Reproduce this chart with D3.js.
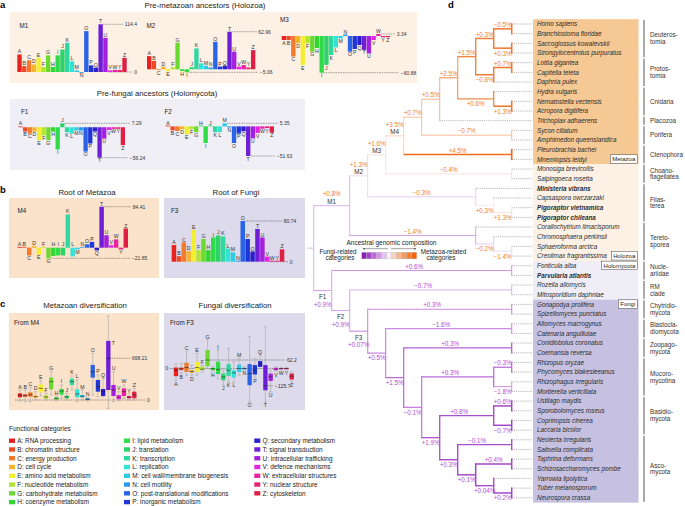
<!DOCTYPE html>
<html><head><meta charset="utf-8"><title>chart</title>
<script src="https://cdn.jsdelivr.net/npm/d3@7"></script>
<style>html,body{margin:0;padding:0;background:#fff;}svg{display:block;}</style>
</head><body>
<svg id="chart" width="685" height="506" font-family="'Liberation Sans', Arial, Helvetica, sans-serif"></svg>
<script>
// ================= DATA =================
const categories = ["A","B","C","D","E","F","G","H","I","J","K","L","M","N","O","P","Q","T","U","V","W","Y","Z"];
const categoryNames = ["RNA processing","chromatin structure","energy production","cell cycle","amino acid metabolism","nucleotide metabolism","carbohydrate metabolism","coenzyme metabolism","lipid metabolism","translation","transcription","replication","cell wall/membrane biogenesis","cell motility","post-translational modifications","inorganic metabolism","secondary metabolism","signal transduction","intracellular trafficking","defence mechanisms","extracellular structures","nuclear structure","cytoskeleton"];
const categoryColors = ["#e8201f","#ef4a26","#f4792a","#f7b32b","#f3ee30","#b4e433","#6cd932","#34d634","#2fdc48","#2bd36b","#2ed8a0","#33e3d5","#2ccbe6","#2b99ea","#2a63e6","#1f35d6","#2b1fd0","#6e1ed6","#a51fdf","#e124e6","#e8239f","#e62573","#e01f45"];

// panel a / b: net change per category
const valuesM1 = [42,14,28,18,34,12,40,12,40,54,70,26,4,-2,98,16,10,114.4,82,4,5,5,34];
const valuesM2 = [22,14,-1,4.5,-3,3.3,44.5,-3,-5.06,3.5,35,10,6,3,46,4.5,6,62.96,29.5,4.5,7,3,32];
const valuesM3 = [-6.6,-6.6,-34,-12,-48,-12,-26,-20,-60.88,-48,-31.5,-19,-4,2.5,-26,-21.5,-15,-23,-29,-6.6,3.34,-2,-2];
const valuesF1 = [0.5,-7.9,-12,-8,-24,-15,-24,-8,-41,7.29,-9,-12,-6,-6,-45,-30,-8,-56.24,-21,-5,-3,-3,-33];
const valuesF2 = [0.5,-7,-8,-5,-14,-5,-10,0.3,-29,0.3,-10,-10,5.35,-2,-29,-12.6,-8.6,-51.63,-21,-11.5,-4,-3,-11];
const valuesM4 = [1.5,1,-16,3.5,-14.5,0.5,-21.85,-17,-16,-16,68.5,-18,-3.5,0.5,7,12,-5.5,84.41,25.6,5,17,-3.5,39.5];
const valuesF3 = [33,11,38,21,63,23,45,23,48,52,50,26,18.5,2,80.74,45,20,65,48,10,2,2,24.5];

// panel c: [whisker low, q1, median, q3, whisker high]
const boxesMetazoa = [
 [-16,43,75,107,160],[-27,53,70,91,160],[-27,53,86,123,203],[0,37,53,70,134],[64,123,187,251,310],
 [0,21,48,75,107],[80,171,294,358,455],[-11,11,21,43,64],[27,86,144,177,241],[0,27,48,70,107],
 [160,241,294,342,385],[-27,43,96,171,321],[0,43,59,80,160],[-16,0,11,27,43],[80,358,455,562,749],
 [53,134,214,321,401],[53,64,134,177,348],[-134,160,668.21,947,1348],[-27,64,160,241,455],[-11,11,43,80,134],
 [27,64,134,187,241],[0,27,43,64,96],[0,27,80,134,187]];
const boxesFungi = [
 [-86,-56,-12,7,32],[-37,-12,-2,7,37],[-49,-25,7,42,122],[-49,-32,-22,-12,25],[-49,-25,7,49,110],
 [-25,-10,-5,14,25],[0,17,62.2,135,208],[-25,-12,-2,5,17],[-74,-40,-7,50,135],[-122,-86,-61,-37,-12],
 [-98,-54,-12,32,147],[-98,-66,-32,-12,49],[-49,-25,0,28,73],[-12,-6,0,5,12],[-245,-122,-37,32,233],
 [-66,-44,-12,25,73],[0,12,32,54,98],[-245,-159,-125.7,25,306],[-171,-91,-61,-37,-12],[-20,-12,-5,5,12],
 [-10,-5,0,3,8],[-10,-5,0,3,8],[-98,-81,-56,-37,-25]];

// panel d: phylogeny (internal nodes: [id, ...children]; leaves: species names)
const tree = ["root",
 ["M1",
  ["M2",
   ["M3",
    ["M4",
     ["n6",
      ["n5",
       ["plan",
        ["bil",
         ["deut",["c_homo","Homo sapiens","Branchiostoma floridae"],["c_sacco","Saccoglossus kowalevskii","Strongylocentrotus purpuratus"]],
         ["prot",["c_lot","Lottia gigantea","Capitella teleta"],"Daphnia pulex"]],
        ["cnid","Hydra vulgaris",["c_nem","Nematostella vectensis","Acropora digitifera"]]],
       "Trichoplax adhaerens"],
      ["c_por","Sycon ciliatum","Amphimedon queenslandica"]],
     ["c_cten","Pleurobrachia bachei","Mnemiopsis leidyi"]],
    ["c_cho","Monosiga brevicollis","Salpingoeca rosetta"]],
   ["fil","Ministeria vibrans",["capi","Capsaspora owczarzaki",["c_pig","Pigoraptor vietnamica","Pigoraptor chileana"]]]],
  ["ter","Corallochytrium limacisporum",["chr","Chromosphaera perkinsii",["c_sph","Sphaeroforma arctica","Creolimax fragrantissima"]]]],
 ["F1",
  ["c_nuc","Fonticula alba","Parvularia atlantis"],
  ["F2",
   ["c_rm","Rozella allomycis","Mitosporidium daphniae"],
   ["F3",
    ["c_chy","Gonapodya prolifera","Spizellomyces punctatus"],
    ["f4",
     ["c_bla","Allomyces macrogynus","Catenaria anguillulae"],
     ["f5",
      ["c_zoo","Conidiobolus coronatus","Coemansia reversa"],
      ["f6",
       ["muc",["c_rhz","Rhizopus oryzae","Phycomyces blakesleeanus"],["c_rhp","Rhizophagus irregularis","Mortierella verticillata"]],
       ["dik",
        ["bas",["c_ust","Ustilago maydis","Sporobolomyces roseus"],["c_cop","Coprinopsis cinerea","Laccaria bicolor"]],
        ["as1",["c_neo","Neolecta irregularis","Saitoella complicata"],
         ["as2",["c_tap","Taphrina deformans","Schizosaccharomyces pombe"],
          ["as3","Yarrowia lipolytica",["c_tub","Tuber melanosporum","Neurospora crassa"]]]]]]]]]]]];

const branchChange = {deut:"+0.3%",c_homo:"\u22120.5%",c_sacco:"+0.3%",prot:"\u22120.8%",c_lot:"+0.7%",bil:"+1.5%",plan:"+2.5%",
 cnid:"+0.6%",c_nem:"+1.3%",n5:"+0.5%",n6:"+0.7%",c_por:"\u22120.7%",M4:"+3.5%",c_cten:"+4.5%",M3:"+1.6%",c_cho:"\u22120.4%",
 M2:"+1.3%",fil:"\u22120.3%",capi:"+0.3%",c_pig:"+1.3%",M1:"+0.8%",ter:"\u22121.4%",chr:"\u22120.2%",c_sph:"\u22121.4%",
 F1:"+0.9%",c_nuc:"+0.6%",F2:"+0.9%",c_rm:"\u22120.7%",F3:"+0.07%",c_chy:"+0.3%",f4:"+0.5%",c_bla:"\u22121.6%",f5:"+1.5%",
 c_zoo:"+0.3%",f6:"\u22120.1%",muc:"+0.3%",c_rhz:"\u22120.3%",c_rhp:"\u22121.8%",dik:"+1.9%",bas:"+0.8%",c_ust:"+0.6%",
 c_cop:"\u22120.7%",as1:"+0.3%",c_neo:"\u22120.1%",as2:"+0.1%",c_tap:"+0.4%",as3:"+0.04%",c_tub:"+0.2%"};
// ancestral composition (-1 fungi-related ... +1 metazoa-related)
const composition = {root:-0.3,M1:-0.3,M2:-0.15,M3:0.15,M4:0.25,n6:0.35,n5:0.4,plan:0.55,bil:0.75,deut:0.8,c_homo:0.85,
 c_sacco:0.85,prot:0.8,c_lot:0.85,cnid:0.7,c_nem:0.85,c_por:0.35,c_cten:0.95,c_cho:0.15,fil:-0.2,capi:0.1,c_pig:0.15,
 ter:-0.35,chr:-0.2,c_sph:-0.15,F1:-0.35,c_nuc:-0.4,F2:-0.35,c_rm:-0.3,F3:-0.45,c_chy:-0.45,f4:-0.5,c_bla:-0.45,f5:-0.6,
 c_zoo:-0.65,f6:-0.55,muc:-0.6,c_rhz:-0.6,c_rhp:-0.4,dik:-0.7,bas:-0.75,c_ust:-0.8,c_cop:-0.8,as1:-0.75,c_neo:-0.75,
 as2:-0.8,c_tap:-0.8,as3:-0.75,c_tub:-0.8};
const namedNodes = ["M1","M2","M3","M4","F1","F2","F3"];
const boldTaxa = ["Ministeria vibrans","Pigoraptor vietnamica","Pigoraptor chileana","Parvularia atlantis"];
const regionRows = [["Homo sapiens","Mnemiopsis leidyi"],["Monosiga brevicollis","Creolimax fragrantissima"],["Fonticula alba","Mitosporidium daphniae"],["Gonapodya prolifera","Neurospora crassa"]];
const regionTags = [["Metazoa","Mnemiopsis leidyi"],["Holozoa","Creolimax fragrantissima"],["Holomycota","Fonticula alba"],["Fungi","Gonapodya prolifera"]];
const groups = [
 [["Deuteros-","tomia"],"Homo sapiens","Strongylocentrotus purpuratus"],
 [["Protos-","tomia"],"Lottia gigantea","Daphnia pulex"],
 [["Cnidaria"],"Hydra vulgaris","Acropora digitifera"],
 [["Placozoa"],"Trichoplax adhaerens","Trichoplax adhaerens"],
 [["Porifera"],"Sycon ciliatum","Amphimedon queenslandica"],
 [["Ctenophora"],"Pleurobrachia bachei","Mnemiopsis leidyi"],
 [["Choano-","flagellatea"],"Monosiga brevicollis","Salpingoeca rosetta"],
 [["Filas-","terea"],"Ministeria vibrans","Pigoraptor chileana"],
 [["Tereto-","sporea"],"Corallochytrium limacisporum","Creolimax fragrantissima"],
 [["Nucle-","ariidae"],"Fonticula alba","Parvularia atlantis"],
 [["RM","clade"],"Rozella allomycis","Mitosporidium daphniae"],
 [["Chytridio-","mycota"],"Gonapodya prolifera","Spizellomyces punctatus"],
 [["Blastocla-","diomycota"],"Allomyces macrogynus","Catenaria anguillulae"],
 [["Zoopago-","mycota"],"Conidiobolus coronatus","Coemansia reversa"],
 [["Mucoro-","mycotina"],"Rhizopus oryzae","Mortierella verticillata"],
 [["Basidio-","mycota"],"Ustilago maydis","Laccaria bicolor"],
 [["Asco-","mycota"],"Neolecta irregularis","Neurospora crassa"]];

// ================= HELPERS =================
const svg = d3.select("#chart");
function addText(x, y, s, o = {}) {
  const t = svg.append("text").attr("x", x).attr("y", y).text(s)
    .attr("font-size", o.size || 6.5).attr("fill", o.fill || "#222")
    .attr("text-anchor", o.anchor || "start");
  if (o.bold) t.attr("font-weight", "bold");
  if (o.italic) t.attr("font-style", "italic");
  return t;
}
function addLine(x1, y1, x2, y2, stroke, w, dash, cap) {
  const l = svg.append("line").attr("x1", x1).attr("y1", y1).attr("x2", x2).attr("y2", y2)
    .attr("stroke", stroke).attr("stroke-width", w);
  if (dash) l.attr("stroke-dasharray", dash);
  if (cap) l.attr("stroke-linecap", cap);
  return l;
}
function addRect(x, y, w, h, fill) {
  return svg.append("rect").attr("x", x).attr("y", y).attr("width", w).attr("height", h).attr("fill", fill);
}
const fmt = v => String(v).replace("-", "\u2212");
const DOT = "0.8,0.9";

// ================= PANEL BACKGROUNDS =================
addRect(10, 12, 407, 71, "#fdf1e5");
addRect(10, 99, 295, 71, "#efeff5");
addRect(9, 198, 150, 80, "#fae2cb");
addRect(164, 198, 141, 80, "#dcdaeb");
addRect(9, 313, 150, 97, "#fae2cb");
addRect(164, 313, 141, 97, "#dcdaeb");

addText(0, 8, "a", {size: 9.5, bold: true, fill: "#000"});
addText(0, 193, "b", {size: 9.5, bold: true, fill: "#000"});
addText(0, 307, "c", {size: 9.5, bold: true, fill: "#000"});
addText(448, 8, "d", {size: 9.5, bold: true, fill: "#000"});
addText(205, 7.5, "Pre-metazoan ancestors (Holozoa)", {size: 7.8, anchor: "middle"});
addText(157, 95.5, "Pre-fungal ancestors (Holomycota)", {size: 7.8, anchor: "middle"});
addText(87, 195, "Root of Metazoa", {size: 7.8, anchor: "middle"});
addText(236, 195, "Root of Fungi", {size: 7.8, anchor: "middle"});
addText(85, 308, "Metazoan diversification", {size: 7.8, anchor: "middle"});
addText(235, 308, "Fungal diversification", {size: 7.8, anchor: "middle"});

// ================= BAR PANELS (a, b) =================
const barPanels = [
  {values: valuesM1, name: "M1", nx: 19.5, ny: 27.5, x0: 17.3, x1: 126.7, lo: 0, yLo: 72, yHi: 24.3,
   refs: [{kind: "max", end: 123}, {kind: "zero", from: "U", end: 132.5}]},
  {values: valuesM2, name: "M2", nx: 146.5, ny: 27.5, x0: 147, x1: 255.3, lo: "min", yLo: 72.3, yHi: 31.7,
   refs: [{kind: "max", end: 256.5}, {kind: "min", end: 258}]},
  {values: valuesM3, name: "M3", nx: 280, ny: 22, x0: 281.7, x1: 390, lo: "min", yLo: 72.7, yHi: 34,
   refs: [{kind: "max", end: 395}, {kind: "min", end: 399}]},
  {values: valuesF1, name: "F1", nx: 21, ny: 114, x0: 18.3, x1: 125, lo: "min", yLo: 157.7, yHi: 123.3,
   refs: [{kind: "max", end: 130}, {kind: "min", end: 128}]},
  {values: valuesF2, name: "F2", nx: 164.5, ny: 114, x0: 165.7, x1: 274, lo: "min", yLo: 156, yHi: 123.3,
   refs: [{kind: "max", end: 278}, {kind: "min", end: 275}]},
  {values: valuesM4, name: "M4", nx: 17.5, ny: 213, x0: 17.3, x1: 128, lo: "min", yLo: 258.3, yHi: 206.7,
   refs: [{kind: "max", end: 131}, {kind: "min", end: 130}], labelUp: ["H","I","J","L"]},
  {values: valuesF3, name: "F3", nx: 171, ny: 212.5, x0: 171.7, x1: 284.3, lo: 0, yLo: 261.7, yHi: 221,
   refs: [{kind: "max", end: 282}, {kind: "zero", from: "V", end: 288}]}
];
barPanels.forEach(p => {
  const vals = p.values;
  const vmax = d3.max(vals), vmin = d3.min(vals);
  const lo = p.lo === "min" ? vmin : p.lo;
  const x = d3.scaleBand().domain(categories).range([p.x0, p.x1]).paddingInner(0.08).paddingOuter(0);
  const y = d3.scaleLinear().domain([lo, vmax]).range([p.yLo, p.yHi]);
  const bw = x.bandwidth();
  addText(p.nx, p.ny, p.name, {size: 6.3, fill: "#222"});
  // reference dotted lines
  p.refs.forEach(r => {
    let v, xs;
    if (r.kind === "max") { v = vmax; xs = x(categories[vals.indexOf(vmax)]) + bw; }
    else if (r.kind === "min") { v = vmin; xs = x(categories[vals.indexOf(vmin)]) + bw; }
    else { v = 0; xs = x(r.from) + bw; }
    addLine(xs + 0.5, y(v), r.end, y(v), "#333", 0.6, DOT);
    addText(r.end + 1.8, y(v) + 1.8, fmt(v), {size: 5, fill: "#333"});
  });
  categories.forEach((c, i) => {
    const v = vals[i];
    const y0 = y(0), yv = y(v);
    const h = Math.max(0.8, Math.abs(yv - y0));
    svg.append("rect").attr("x", x(c)).attr("width", bw)
      .attr("y", v >= 0 ? y0 - h : y0).attr("height", h).attr("fill", categoryColors[i]);
    const up = v >= 0 || (p.labelUp && p.labelUp.includes(c));
    const ly = up ? (v >= 0 ? y0 - h - 1 : y0 - 1.2) : y0 + h + 4.6;
    addText(x(c) + bw / 2, ly, c, {size: 5.2, anchor: "middle", fill: "#333"});
  });
});

// ================= BOX PANELS (c) =================
const boxPanels = [
  {data: boxesMetazoa, name: "From M4", nx: 14, ny: 325, x0: 20, x1: 134.3, dom: [0, 668.21], rng: [400, 358.3], top: 313,
   refs: [{v: 0, xs: 15, end: 145, lx: 147, anchor: "start"}, {v: 668.21, from: "T", end: 130, lx: 132, anchor: "start"}]},
  {data: boxesFungi, name: "From F3", nx: 170, ny: 325, x0: 176, x1: 291.7, dom: [-125.7, 62.2], rng: [385.7, 360], top: 313,
   refs: [{v: 0, xs: 170, end: 288, lx: 165.5, anchor: "start"}, {v: 62.2, from: "G", end: 285, lx: 287, anchor: "start"},
          {v: -125.7, from: "T", end: 273, lx: 275, anchor: "start"}]}
];
boxPanels.forEach(p => {
  const x = d3.scalePoint().domain(categories).range([p.x0, p.x1]);
  const y = d3.scaleLinear().domain(p.dom).range(p.rng);
  const bw = 4.3;
  addText(p.nx, p.ny, p.name, {size: 6.3, fill: "#222"});
  p.refs.forEach(r => {
    const xs = r.from ? x(r.from) + bw / 2 : r.xs;
    addLine(xs, y(r.v), r.end, y(r.v), "#333", 0.6, DOT);
    const lx = r.v === 0 && r.lx < xs ? r.lx : r.lx;
    addText(lx, y(r.v) + 1.8, fmt(r.v), {size: 5, fill: "#333"});
  });
  p.data.forEach((d, i) => {
    const c = categories[i], cx = x(c);
    addLine(cx, y(d[0]), cx, y(d[4]), "#a8a8a8", 0.6);
    addLine(cx - 1.6, y(d[0]), cx + 1.6, y(d[0]), "#a8a8a8", 0.6);
    addLine(cx - 1.6, y(d[4]), cx + 1.6, y(d[4]), "#a8a8a8", 0.6);
    svg.append("rect").attr("x", cx - bw / 2).attr("y", y(d[3])).attr("width", bw)
      .attr("height", Math.max(0.8, y(d[1]) - y(d[3]))).attr("fill", categoryColors[i]);
    addLine(cx - bw / 2, y(d[2]), cx + bw / 2, y(d[2]), "#222", 0.6);
    const above = d[3] + d[1] > 0;
    if (above && y(d[4]) - 7 < p.top + 8) {
      addText(cx + bw / 2 + 1.2, y(d[3]) + 4, c, {size: 5.2, fill: "#333"});
    } else if (above) {
      addText(cx, y(d[4]) - 1.5, c, {size: 5.2, anchor: "middle", fill: "#333"});
    } else {
      addText(cx, y(d[0]) + 5.3, c, {size: 5.2, anchor: "middle", fill: "#333"});
    }
  });
});

// ================= LEGEND (functional categories) =================
addText(9, 431, "Functional categories", {size: 6.5, fill: "#222"});
const colX = [9, 124, 254.3];
categories.forEach((c, i) => {
  const col = i < 8 ? 0 : (i < 16 ? 1 : 2);
  const row = i < 16 ? i % 8 : i - 16;
  const cy = 440.7 + row * 8.77;
  addRect(colX[col], cy - 2.2, 6, 4.4, categoryColors[i]);
  addText(colX[col] + 8.3, cy + 2.3, c + ": " + categoryNames[i], {size: 6.4, fill: "#222"});
});

// ================= PANEL d: TREE =================
function toObj(t) { return typeof t === "string" ? {name: t} : {id: t[0], children: t.slice(1).map(toObj)}; }
const root = d3.hierarchy(toObj(tree));
const leaves = root.leaves();
const yLeaf = d3.scalePoint().domain(leaves.map(d => d.data.name)).range([24, 497.8]);
const xH = d3.scaleLinear().domain([0, root.height]).range([529.7, 313.7]);
root.eachAfter(n => {
  n.X = xH(n.height);
  n.Y = n.children ? (n.children[0].Y + n.children[n.children.length - 1].Y) / 2 : yLeaf(n.data.name);
});
const rowH = yLeaf.step();
const ramp = d3.scaleLinear().domain([-1, -0.5, 0, 0.5, 1]).range(["#8c1fb5", "#c77fe0", "#f7f0f8", "#f6a66e", "#ee6514"]);
const regionFills = ["#f6c893", "#fdf1e5", "#efeef6", "#c7c1e1"];

// label region backgrounds
regionRows.forEach((r, i) => {
  const y0 = yLeaf(r[0]) - rowH / 2, y1 = yLeaf(r[1]) + rowH / 2;
  addRect(533, y0, 105.5, y1 - y0, regionFills[i]);
});

// branches
const holozoaIds = new Set(root.descendants().find(n => n.data.id === "M1").descendants().map(n => n.data.id || n.data.name));
root.descendants().forEach(n => {
  if (!n.children) return;
  const c = composition[n.data.id];
  const col = ramp(c), w = 0.6 + 1.1 * Math.abs(c);
  n.children.forEach(ch => {
    if (!ch.children) addLine(n.X, ch.Y, 532, ch.Y, "#808080", 0.55, "1.2,0.9");
  });
  if (n.parent) addLine(n.parent.X, n.Y, n.X, n.Y, col, w);
  else addLine(n.X - 6.6, n.Y, n.X, n.Y, col, w);
  addLine(n.X, n.children[0].Y, n.X, n.children[n.children.length - 1].Y, col, w, null, "square");
});

// branch labels
root.descendants().forEach(n => {
  if (!n.children || !n.parent) return;
  const id = n.data.id, lab = branchChange[id];
  const holo = holozoaIds.has(id);
  const fill = holo ? "#f07d2e" : "#b54ad6";
  const len = n.parent.height - n.height;
  let cx = (n.parent.X + n.X) / 2;
  if (!holo && len >= 3) cx = (n.parent.X + n.X - 15) / 2;
  if (namedNodes.includes(id)) {
    if (id[0] === "M") {
      addText(cx, n.Y - 9.2, lab, {size: 6.3, anchor: "middle", fill});
      addText(cx, n.Y - 2, id, {size: 6.3, anchor: "middle", fill: "#333"});
    } else {
      addText(cx, n.Y + 8.5, id, {size: 6.3, anchor: "middle", fill: "#333"});
      addText(cx, n.Y + 16, lab, {size: 6.3, anchor: "middle", fill});
    }
    return;
  }
  if (!lab) return;
  const first = n.parent.children[0] === n;
  const above = first || len >= 3;
  addText(cx, above ? n.Y - 2 : n.Y + 7.4, lab, {size: 6.3, anchor: "middle", fill});
});

// tip labels
leaves.forEach(l => {
  addText(537, l.Y + 2.2, l.data.name, {size: 6.3, italic: true, fill: "#2a2a2a", bold: boldTaxa.includes(l.data.name)});
});

// region tags
regionTags.forEach(t => {
  const yy = yLeaf(t[1]);
  const tx = addText(0, yy + 1.9, t[0], {size: 6, fill: "#222", anchor: "middle"});
  const tw = tx.node().getComputedTextLength() + 4;
  const bx = 637.3 - tw;
  svg.insert("rect", () => tx.node()).attr("x", bx).attr("y", yy - 4.6).attr("width", tw).attr("height", 8.6)
    .attr("fill", "#fff").attr("stroke", "#444").attr("stroke-width", 0.5);
  tx.attr("x", bx + tw / 2);
});

// group brackets
groups.forEach(g => {
  const y0 = yLeaf(g[1]) - 4.1, y1 = yLeaf(g[2]) + 4.1;
  addLine(644, y0, 644, y1, "#444", 0.9);
  const cy = (yLeaf(g[1]) + yLeaf(g[2])) / 2;
  if (g[0].length === 1) addText(650, cy + 2.2, g[0][0], {size: 6.3, fill: "#333"});
  else {
    addText(650, cy - 1.2, g[0][0], {size: 6.3, fill: "#333"});
    addText(650, cy + 5.6, g[0][1], {size: 6.3, fill: "#333"});
  }
});

// composition colour legend
addText(391.5, 244.5, "Ancestral genomic composition", {size: 6.5, anchor: "middle", fill: "#222"});
const defs = svg.append("defs");
defs.append("marker").attr("id", "ah").attr("viewBox", "0 0 6 6").attr("refX", 5).attr("refY", 3)
  .attr("markerWidth", 4).attr("markerHeight", 4).attr("orient", "auto")
  .append("path").attr("d", "M0,0 L6,3 L0,6 Z").attr("fill", "#444");
addLine(388, 248.7, 363, 248.7, "#444", 0.5).attr("marker-end", "url(#ah)");
addLine(391, 248.7, 416, 248.7, "#444", 0.5).attr("marker-end", "url(#ah)");
const legendSteps = d3.range(-1, 1.0001, 0.2);
const cellX = d3.scaleBand().domain(legendSteps.map((d, i) => i)).range([361.7, 416.7]);
legendSteps.forEach((v, i) => {
  svg.append("rect").attr("x", cellX(i)).attr("y", 252.3).attr("width", cellX.bandwidth()).attr("height", 6.6)
    .attr("fill", ramp(v)).attr("stroke", "#bbb").attr("stroke-width", 0.3);
});
addText(338, 254.3, "Fungi-related", {size: 6.3, anchor: "middle", fill: "#222"});
addText(340, 260.3, "categories", {size: 6.3, anchor: "middle", fill: "#222"});
addText(443.5, 254.3, "Metazoa-related", {size: 6.3, anchor: "middle", fill: "#222"});
addText(441, 260.3, "categories", {size: 6.3, anchor: "middle", fill: "#222"});
</script>
</body></html>
